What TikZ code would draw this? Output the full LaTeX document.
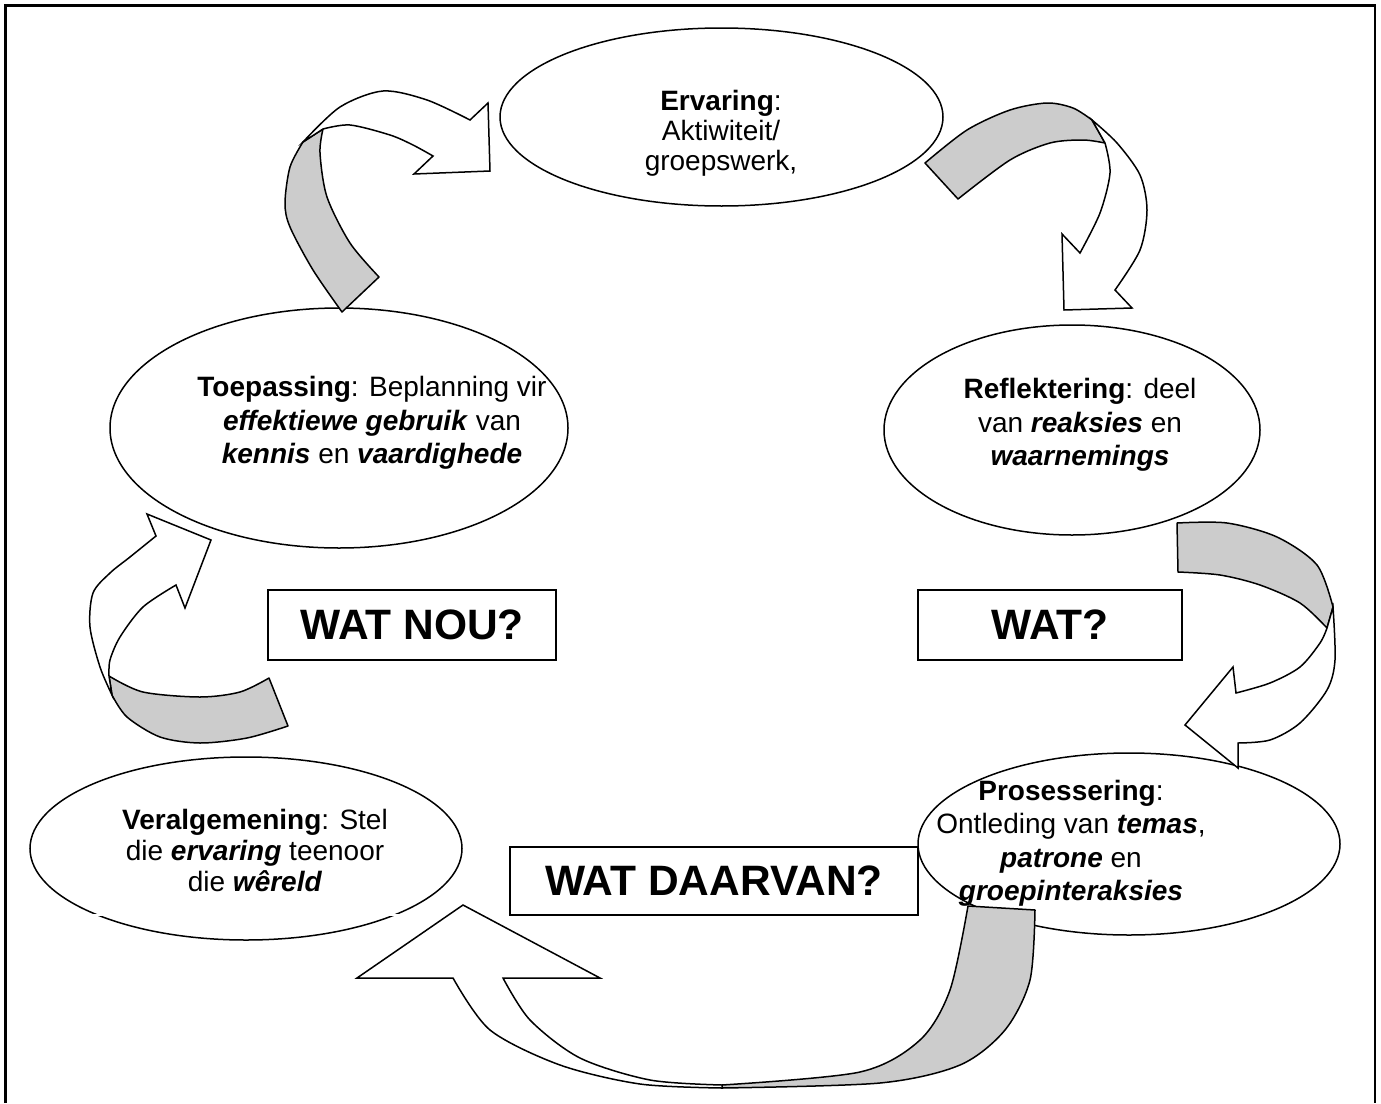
\documentclass[tikz,border=0pt]{standalone}
\usepackage{fontspec}
\setmainfont{Liberation Sans}
\usetikzlibrary{shapes.geometric}
\definecolor{ribbon}{RGB}{204,204,204}
\begin{document}
\begin{tikzpicture}[x=1pt,y=-1pt,
  bubble/.style={draw, line width=1.5pt, fill=white, ellipse, inner sep=0pt},
  caption/.style={font=\fontsize{28}{33.5}\selectfont, align=center, inner sep=0pt},
  tag/.style={draw, line width=1.5pt, fill=white, font=\fontsize{42.5}{48}\selectfont\bfseries, inner sep=0pt, minimum height=70pt},
  band/.style={draw, line width=1.5pt, line join=round, fill=ribbon},
  face/.style={draw, line width=1.5pt, line join=miter, fill=white}]
\useasboundingbox (0,0) rectangle (1381,1103);

% outer frame, open at the bottom
\draw[line width=2.5pt] (5.5,1103) -- (5.5,5.5) -- (1375,5.5) -- (1375,1103);

% the five stages
\node[bubble, minimum width=443pt, minimum height=178pt] (erv) at (721.5,117) {};
\node[bubble, minimum width=458pt, minimum height=240pt] (toe) at (339,428) {};
\node[bubble, minimum width=376pt, minimum height=210pt] (ref) at (1072,430) {};
\node[bubble, minimum width=432pt, minimum height=183pt] (ver) at (246,848.5) {};
\node[bubble, minimum width=422pt, minimum height=182pt] (pro) at (1129,844) {};
\draw[white, line width=2pt] (85,915) -- (440,915);

% the three questions
\node[tag, minimum width=288pt] (wn) at (412,625) {WAT NOU?};
\node[tag, minimum width=264pt] (wt) at (1050,625) {WAT?};
\node[tag, minimum width=408pt, minimum height=68pt] (wd) at (714,881) {WAT DAARVAN?};

% ribbon arrow: Toepassing -> Ervaring
\filldraw[band] plot[smooth] coordinates {(342,312) (313,270) (290,227) (285,203) (290,167) (303,142)}
  -- plot[smooth] coordinates {(323,129) (320,153) (327,197) (350,243) (379,277)} -- cycle;
\filldraw[face] plot[smooth] coordinates {(303,142) (340,107) (383,91) (427,100) (470,120)}
  -- (488,103) -- (490,171) -- (414,174) -- (433,156)
  -- plot[smooth] coordinates {(433,156) (413,145) (390,135) (350,125) (323,129)} -- cycle;

% ribbon arrow: Ervaring -> Reflektering
\filldraw[band] plot[smooth] coordinates {(925,163) (967,130) (1010,110) (1047,103) (1073,108) (1092,120)}
  -- (1105,143)
  -- plot[smooth] coordinates {(1105,143) (1083,140) (1050,143) (1010,160) (958,199)} -- cycle;
\filldraw[face] plot[smooth] coordinates {(1092,120) (1117,143) (1140,175) (1147,210) (1140,250) (1115,290)}
  -- (1132,308) -- (1064,310) -- (1062,234) -- (1080,253)
  -- plot[smooth] coordinates {(1080,253) (1100,213) (1110,173) (1105,143)} -- cycle;

% ribbon arrow: Reflektering -> Prosessering
\filldraw[band] plot[smooth] coordinates {(1177,523) (1227,523) (1277,537) (1317,565) (1333,607)}
  -- (1327,628)
  -- plot[smooth] coordinates {(1327,628) (1300,603) (1260,585) (1220,575) (1178,572)} -- cycle;
\filldraw[face] plot[smooth] coordinates {(1333,607) (1335,660) (1327,690) (1300,723) (1270,740) (1238,743)}
  -- (1238,768) -- (1185,725) -- (1233,667) -- (1236,693)
  -- plot[smooth] coordinates {(1236,693) (1270,683) (1300,667) (1320,643) (1327,628)} -- cycle;

% ribbon arrow: Prosessering -> Veralgemening
\filldraw[band] (968,906) -- (1035,910)
  -- plot[smooth] coordinates {(1035,910) (1030,980) (1005,1030) (960,1065) (880,1083) (722,1088)}
  -- plot[smooth] coordinates {(722,1085) (860,1072) (920,1040) (950,990) (968,906)} -- cycle;
\filldraw[face] (453,978) -- (357,978) -- (463,905) -- (600,978) -- (503,978)
  -- plot[smooth] coordinates {(503,978) (530,1020) (580,1058) (650,1080) (722,1085)}
  -- plot[smooth] coordinates {(722,1088) (640,1084) (560,1065) (490,1030) (453,978)} -- cycle;

% ribbon arrow: Veralgemening -> Toepassing
\filldraw[band] plot[smooth] coordinates {(109,676) (143,692) (200,697) (240,692) (269,678)}
  -- (288,726)
  -- plot[smooth] coordinates {(288,726) (247,738) (200,743) (160,737) (127,717) (112,695)} -- cycle;
\filldraw[face] plot[smooth] coordinates {(112,695) (100,667) (90,627) (93,593) (110,573) (130,557) (156,536)}
  -- (147,514) -- (211,540) -- (185,608) -- (176,585)
  -- plot[smooth] coordinates {(176,585) (143,607) (120,637) (110,660) (109,676)} -- cycle;

% stage texts
\node[caption, font=\fontsize{28}{30}\selectfont] (ervT) at (721,133) {\textbf{Ervaring}:\\Aktiwiteit/\\groepswerk,};
\node[caption] (toeT) at (372,423) {\textbf{Toepassing}: Beplanning vir\\\textbf{\textit{effektiewe gebruik}} van\\\textbf{\textit{kennis}} en \textbf{\textit{vaardighede}}};
\node[caption] (refT) at (1080,425) {\textbf{Reflektering}: deel\\van \textbf{\textit{reaksies}} en\\\textbf{\textit{waarnemings}}};
\node[caption, font=\fontsize{28}{31}\selectfont] (verT) at (255,850) {\textbf{Veralgemening}: Stel\\die \textbf{\textit{ervaring}} teenoor\\die \textbf{\textit{wêreld}}};
\node[caption] (proT) at (1071,843) {\textbf{Prosessering}:\\Ontleding van \textbf{\textit{temas}},\\\textbf{\textit{patrone}} en\\\textbf{\textit{groepinteraksies}}};
\end{tikzpicture}
\end{document}
